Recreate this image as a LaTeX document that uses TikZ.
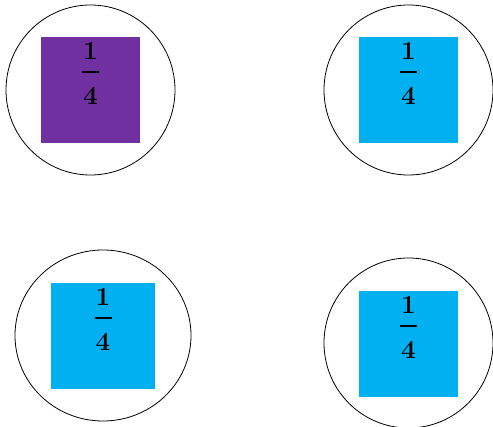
\documentclass[tikz,border=0pt]{standalone}
\usepackage{xcolor}
\usepackage{tikz}
\usetikzlibrary{shapes.geometric}

\definecolor{tilepurple}{HTML}{7030A0}
\definecolor{tileblue}{HTML}{00B0F0}

% one quarter, set as 1 over a bar over 4
\newcommand{\quarterfrac}{%
  \fontsize{26}{21.5}\selectfont\bfseries
  \begin{tabular}[t]{@{}c@{}}1\\\rule[8.2pt]{17pt}{1.6pt}\\4\end{tabular}}

\begin{document}
\begin{tikzpicture}[x=1pt,y=-1pt,
    disc/.style={draw,ellipse,line width=0.8pt,inner sep=0pt},
    tile/.style={rectangle,inner sep=0pt,minimum height=106pt},
    frac/.style={anchor=base,inner sep=0pt,text=black}]
        \useasboundingbox (0,0) rectangle (493,427);
        % circles
        \node[disc,minimum width=169pt,minimum height=170pt] (c1) at (90.5,90) {};
        \node[disc,minimum width=169pt,minimum height=170pt] (c2) at (408.5,90) {};
        \node[disc,minimum width=176pt,minimum height=171pt] (c3) at (103,335.5) {};
        \node[disc,minimum width=169pt,minimum height=170pt] (c4) at (408.5,343) {};
        % squares inside
        \node[tile,fill=tilepurple,minimum width=99pt]  (t1) at (90.5,90) {};
        \node[tile,fill=tileblue,minimum width=99pt]    (t2) at (408.5,90) {};
        \node[tile,fill=tileblue,minimum width=104pt]   (t3) at (103,336) {};
        \node[tile,fill=tileblue,minimum width=99pt]    (t4) at (408.5,344) {};
        % fractions
        \foreach \t in {1,2,3,4}
          {\node[frac] (f\t) at ([yshift=-23pt]t\t.north) {\quarterfrac};}
      \end{tikzpicture}
\end{document}
